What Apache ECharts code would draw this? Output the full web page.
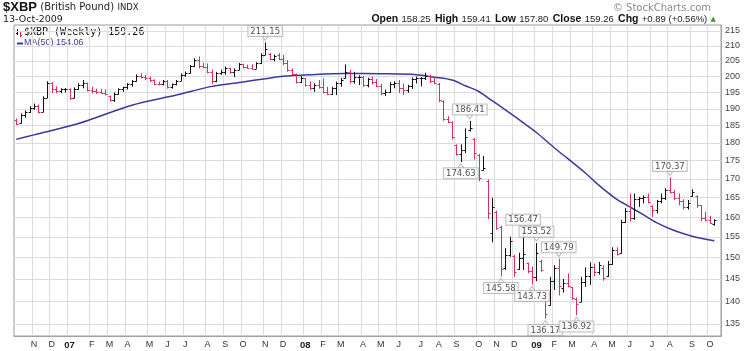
<!DOCTYPE html>
<html>
<head>
<meta charset="utf-8">
<title>$XBP (British Pound)</title>
<script src="https://cdn.jsdelivr.net/npm/echarts@6.0.0/dist/echarts.min.js"></script>
<style>
  html, body { margin: 0; padding: 0; background: #fff; }
  #chart { width: 754px; height: 351px; }
</style>
</head>
<body>
<div id="chart"></div>
<script>
// weekly bars, dated by the Monday of each week
var firstWeek = '2006-10-09';

var opens = [
  186.8, 185.7, 188.2, 189.1, 190.4, 191.0, 189.0, 193.4, 197.9, 196.0,
  195.5, 196.0, 196.1, 193.3, 196.2, 197.3, 198.0, 195.9, 195.4, 195.1,
  194.9, 193.8, 192.7, 194.6, 196.0, 196.6, 197.5, 198.7, 200.2, 199.9,
  199.4, 198.8, 197.8, 197.6, 198.5, 196.8, 197.5, 198.7, 200.6, 201.2,
  203.3, 205.4, 203.4, 203.0, 201.4, 198.6, 201.1, 201.6, 202.6, 201.3,
  202.2, 203.9, 203.1, 202.8, 202.5, 204.3, 207.1, 207.3, 205.6, 207.0,
  205.7, 204.2, 202.0, 200.9, 198.3, 199.4, 197.2, 196.3, 197.4, 196.6,
  195.2, 194.6, 196.3, 198.0, 199.5, 201.5, 198.7, 199.9, 199.8, 197.4,
  199.2, 198.3, 197.1, 194.7, 195.2, 197.8, 197.9, 196.4, 195.7, 196.9,
  199.3, 199.4, 199.5, 200.1, 198.7, 197.8, 192.4, 186.9, 186.1, 179.5,
  176.9, 178.0, 183.6, 181.0, 176.5, 172.5, 169.5, 156.0, 161.4, 157.6,
  147.5, 150.6, 150.5, 147.3, 149.8, 148.7, 146.8, 145.5, 149.3, 140.5,
  139.2, 144.6, 147.5, 143.0, 144.0, 143.2, 140.5, 139.8, 144.2, 145.6,
  147.9, 146.6, 147.5, 145.7, 148.6, 151.8, 151.0, 158.7, 161.6, 159.8,
  164.6, 164.9, 165.3, 162.8, 161.8, 164.0, 164.8, 167.0, 166.5, 164.8,
  164.2, 162.5, 165.5, 165.4, 163.0, 159.8, 159.3, 158.25
];
var highs = [
  187.1, 188.6, 189.5, 190.8, 191.6, 191.3, 193.8, 198.5, 198.2, 196.9,
  196.3, 196.4, 196.3, 196.6, 197.9, 198.9, 198.1, 196.8, 196.2, 196.1,
  196.0, 194.0, 195.0, 196.3, 196.8, 197.9, 198.9, 200.7, 201.0, 200.5,
  200.0, 199.1, 198.4, 198.9, 198.9, 197.8, 198.9, 201.0, 201.6, 203.7,
  205.9, 206.5, 204.4, 204.2, 202.2, 201.5, 202.2, 203.2, 202.8, 202.6,
  204.4, 204.1, 203.8, 204.0, 204.6, 207.5, 211.15, 207.6, 207.1, 207.6,
  207.0, 205.3, 202.6, 201.0, 200.1, 199.5, 198.4, 197.8, 198.9, 199.4,
  196.8, 196.8, 198.4, 199.5, 203.9, 202.1, 201.5, 200.4, 200.2, 199.6,
  200.0, 199.2, 197.7, 195.9, 198.2, 198.5, 198.9, 197.8, 197.4, 199.7,
  200.0, 199.8, 201.2, 200.6, 199.7, 198.0, 192.6, 187.8, 186.3, 179.6,
  179.6, 184.2, 186.41, 181.4, 176.9, 176.3, 169.8, 165.0, 161.6, 157.8,
  152.3, 155.1, 150.7, 151.2, 156.47, 148.8, 147.9, 153.52, 149.5, 140.6,
  145.5, 148.2, 149.79, 145.0, 146.3, 143.2, 140.8, 145.5, 147.7, 148.9,
  148.6, 149.0, 148.2, 149.2, 152.5, 152.5, 159.3, 162.3, 166.1, 166.1,
  165.2, 165.6, 166.1, 163.0, 164.4, 166.1, 167.5, 170.37, 167.1, 166.1,
  164.6, 164.4, 167.2, 165.6, 163.0, 161.3, 160.3, 159.41
];
var lows = [
  185.2, 185.6, 187.3, 188.8, 189.7, 188.6, 189.0, 193.3, 194.8, 194.7,
  194.8, 195.0, 192.7, 193.2, 195.8, 196.3, 195.3, 194.7, 194.6, 194.6,
  194.1, 192.2, 192.1, 194.3, 195.2, 195.9, 196.8, 198.4, 199.4, 198.9,
  198.3, 197.3, 197.2, 197.2, 196.2, 196.2, 197.2, 198.6, 199.9, 200.9,
  203.1, 202.6, 202.6, 201.0, 197.6, 198.2, 200.5, 200.6, 200.9, 199.8,
  202.0, 202.6, 202.4, 202.3, 202.5, 204.0, 207.0, 205.3, 204.9, 205.3,
  203.7, 201.5, 200.5, 197.8, 198.0, 196.8, 195.8, 195.2, 196.2, 194.7,
  194.2, 194.2, 194.2, 196.8, 199.4, 197.8, 197.8, 197.3, 196.8, 196.6,
  197.5, 196.7, 194.2, 193.9, 194.9, 196.3, 194.8, 194.2, 194.9, 196.1,
  197.8, 196.9, 198.9, 198.0, 197.6, 192.0, 186.4, 185.7, 181.0, 176.4,
  174.63, 177.1, 183.3, 175.3, 169.4, 172.3, 159.5, 153.7, 156.8, 145.58,
  147.1, 150.2, 145.5, 147.1, 147.1, 146.3, 143.73, 144.5, 146.7, 136.17,
  139.0, 142.5, 141.3, 141.9, 143.1, 140.3, 136.92, 139.8, 143.2, 143.7,
  145.6, 146.0, 144.6, 145.5, 148.3, 150.5, 151.0, 158.5, 158.9, 159.3,
  162.6, 163.5, 163.5, 160.0, 160.9, 163.5, 164.4, 166.1, 164.4, 163.0,
  161.9, 161.9, 165.3, 162.3, 158.9, 158.9, 158.2, 157.80
];
var closes = [
  185.6, 188.2, 189.1, 190.4, 191.0, 189.0, 193.4, 197.9, 196.0, 195.5,
  196.0, 196.1, 193.2, 196.2, 197.3, 198.0, 195.9, 195.4, 195.1, 194.9,
  194.5, 192.7, 194.6, 196.0, 196.6, 197.5, 198.7, 200.2, 199.9, 199.4,
  198.8, 197.8, 197.6, 198.5, 196.8, 197.5, 198.7, 200.6, 201.2, 203.3,
  205.4, 203.4, 203.0, 201.4, 198.6, 201.1, 201.6, 202.6, 201.3, 202.2,
  203.9, 203.1, 202.8, 202.5, 204.3, 207.1, 209.0, 205.6, 206.6, 205.7,
  204.2, 202.0, 200.9, 198.3, 199.4, 197.2, 196.3, 197.4, 196.6, 195.2,
  194.6, 196.3, 198.0, 199.0, 201.5, 198.7, 199.9, 200.0, 197.4, 199.2,
  198.3, 197.1, 194.7, 195.2, 197.8, 197.9, 196.4, 195.7, 196.9, 199.3,
  199.4, 199.5, 200.1, 198.7, 198.1, 192.7, 186.9, 186.1, 181.6, 176.9,
  178.0, 181.7, 184.3, 177.2, 170.3, 173.0, 161.0, 162.6, 157.3, 147.3,
  150.6, 154.0, 146.6, 150.0, 150.8, 146.8, 145.5, 151.2, 147.0, 137.2,
  144.6, 147.5, 143.5, 144.0, 143.4, 140.8, 139.3, 144.2, 145.6, 147.9,
  146.6, 148.2, 145.2, 148.6, 151.8, 150.8, 158.7, 161.6, 159.8, 164.6,
  164.9, 165.3, 163.8, 161.8, 164.0, 164.8, 167.0, 166.5, 164.8, 164.2,
  162.5, 163.5, 166.4, 163.0, 159.8, 159.3, 158.37, 159.26
];

// MA(50) at a few weeks
var maWeek  = [0, 4, 14, 26, 36, 44, 51, 56, 60, 66, 74, 82, 90, 94, 98, 101, 104, 107, 110, 114, 117, 121, 124, 128, 131, 135, 138, 141, 144, 148, 152, 157];
var maValue = [181.0, 182.3, 185.6, 191.1, 194.2, 196.9, 198.3, 199.3, 200.1, 200.6, 201.0, 200.9, 200.6, 199.8, 198.9, 197.1, 195.3, 192.5, 189.7, 185.9, 183.0, 178.6, 175.6, 171.6, 168.3, 164.6, 162.6, 160.6, 158.6, 156.6, 155.2, 154.06];

// weeks carrying a price flag
var peakWeek = [56, 102, 114, 117, 122, 147];
var troughWeek = [100, 109, 116, 119, 126];

var priceTicks = [135, 140, 145, 150, 155, 160, 165, 170, 175, 180, 185, 190, 195, 200, 205, 210, 215];

var upColor = '#111111';
var downColor = '#d8305e';
var maColor = '#3a3a9e';

var weeks = [];
var t0 = new Date(firstWeek + 'T00:00:00Z').getTime();
for (var k = 0; k <= closes.length; k++) {
  weeks.push(new Date(t0 + k * 7 * 86400000).toISOString().slice(0, 10));
}

var monthLetters = ['J', 'F', 'M', 'A', 'M', 'J', 'J', 'A', 'S', 'O', 'N', 'D'];
function monthStart(idx) {
  return idx > 0 && weeks[idx].slice(5, 7) !== weeks[idx - 1].slice(5, 7);
}

var bars = [];
for (var i = 0; i < closes.length; i++) {
  var prev = i > 0 ? closes[i - 1] : opens[i];
  bars.push([i, opens[i], highs[i], lows[i], closes[i], closes[i] >= prev ? 1 : 0]);
}

function renderBar(params, api) {
  var idx = api.value(0);
  var hi = api.coord([idx, api.value(2)]);
  var lo = api.coord([idx, api.value(3)]);
  var op = api.coord([idx, api.value(1)]);
  var cl = api.coord([idx, api.value(4)]);
  var x = Math.round(hi[0]) + 0.5;
  var color = api.value(5) ? upColor : downColor;
  var yo = Math.round(op[1]) + 0.5;
  var yc = Math.round(cl[1]) + 0.5;
  return {
    type: 'group',
    children: [
      { type: 'line', shape: { x1: x, y1: hi[1], x2: x, y2: lo[1] }, style: { stroke: color, lineWidth: 1 } },
      { type: 'line', shape: { x1: x - 2, y1: yo, x2: x, y2: yo }, style: { stroke: color, lineWidth: 1 } },
      { type: 'line', shape: { x1: x, y1: yc, x2: x + 2, y2: yc }, style: { stroke: color, lineWidth: 1 } }
    ]
  };
}

var last = closes.length - 1;
var chg = closes[last] - closes[last - 1];
var chgPct = chg / closes[last - 1] * 100;

var flagLabel = {
  show: true,
  formatter: function (p) { return p.value[1].toFixed(2); },
  backgroundColor: '#fff',
  borderColor: '#b0b0b0',
  borderWidth: 1,
  padding: [1, 2, 0, 2],
  fontSize: 8.5,
  fontFamily: 'DejaVu Sans',
  color: '#222',
  distance: 0
};
var flagPointer = { color: '#fff', borderColor: '#b0b0b0', borderWidth: 1 };

var chart = echarts.init(document.getElementById('chart'));
var option = {
  animation: false,
  backgroundColor: '#fff',
  grid: { left: 14, top: 25, right: 33, bottom: 15, show: true, borderColor: '#9a9a9a', borderWidth: 1, containLabel: false, outerBoundsMode: 'none' },
  xAxis: {
    type: 'category',
    data: weeks,
    boundaryGap: true,
    axisLine: { show: true, lineStyle: { color: '#999', type: 'dotted' } },
    axisTick: { show: false },
    axisLabel: {
      interval: function (index) { return monthStart(index); },
      formatter: function (value) {
        var m = parseInt(value.slice(5, 7), 10);
        if (m === 1) return '{y|' + value.slice(2, 4) + '}';
        return monthLetters[m - 1];
      },
      rich: { y: { fontWeight: 'bold', fontSize: 9.5, fontFamily: 'Liberation Sans', color: '#222' } },
      fontSize: 9,
      fontFamily: 'Liberation Sans',
      color: '#333',
      margin: 4
    },
    splitLine: {
      show: true,
      interval: function (index) { return monthStart(index); },
      lineStyle: { color: '#dcdcdc', width: 1 }
    }
  },
  yAxis: {
    type: 'log',
    logBase: 10,
    position: 'right',
    min: 132.45,
    max: 217.06,
    axisLine: { show: true, lineStyle: { color: '#999', type: 'dotted' } },
    axisTick: { show: false, customValues: priceTicks },
    axisLabel: {
      customValues: priceTicks,
      fontSize: 9,
      fontFamily: 'Liberation Sans',
      color: '#444',
      margin: 4,
      formatter: function (v) { return String(Math.round(v)); }
    },
    splitLine: { show: true, lineStyle: { color: '#dcdcdc', width: 1 } }
  },
  series: [
    {
      type: 'line',
      data: maWeek.map(function (w, n) { return [w, maValue[n]]; }),
      symbol: 'none',
      smooth: 0.3,
      lineStyle: { color: maColor, width: 1.5 },
      z: 2
    },
    {
      type: 'custom',
      renderItem: renderBar,
      data: bars,
      encode: { x: 0, y: [1, 2, 3, 4] },
      z: 3
    },
    {
      type: 'scatter',
      data: peakWeek.map(function (w) { return [w, highs[w]]; }),
      symbol: 'triangle',
      symbolRotate: 180,
      symbolSize: [6, 4],
      symbolOffset: [0, -4],
      itemStyle: flagPointer,
      label: Object.assign({ position: 'top' }, flagLabel),
      z: 4
    },
    {
      type: 'scatter',
      data: troughWeek.map(function (w) { return [w, lows[w]]; }),
      symbol: 'triangle',
      symbolSize: [6, 4],
      symbolOffset: [0, 4],
      itemStyle: flagPointer,
      label: Object.assign({ position: 'bottom' }, flagLabel),
      z: 4
    }
  ],
  graphic: [
    {
      type: 'text', x: 3, y: 1,
      style: {
        text: '{a|$XBP} {b|(British Pound)} {c|INDX}',
        rich: {
          a: { fontFamily: 'Liberation Sans', fontWeight: 'bold', fontSize: 13, fill: '#111' },
          b: { fontFamily: 'DejaVu Sans', fontSize: 10, fill: '#222' },
          c: { fontFamily: 'DejaVu Sans', fontSize: 8.5, fill: '#222' }
        }
      }
    },
    {
      type: 'text', x: 3, y: 15,
      style: { text: '13-Oct-2009', font: '9.5px "DejaVu Sans"', fill: '#222' }
    },
    {
      type: 'text', x: 711, y: 3,
      style: { text: '\u00a9 StockCharts.com', font: '10px "DejaVu Sans"', fill: '#8a8a8a', align: 'right' }
    },
    {
      type: 'text', x: 716, y: 13,
      style: {
        text: '{b|Open} {v|' + opens[last].toFixed(2) + '} {b|High} {v|' + highs[last].toFixed(2) +
              '} {b|Low} {v|' + lows[last].toFixed(2) + '} {b|Close} {v|' + closes[last].toFixed(2) +
              '} {b|Chg} {v|' + (chg >= 0 ? '+' : '') + chg.toFixed(2) + ' (' + (chg >= 0 ? '+' : '') + chgPct.toFixed(2) + '%)} {g|\u25b2}',
        align: 'right',
        rich: {
          b: { fontFamily: 'Liberation Sans', fontWeight: 'bold', fontSize: 10.5, fill: '#111', padding: [0, 0, 0, 1] },
          v: { fontFamily: 'Liberation Sans', fontSize: 9.5, fill: '#222' },
          g: { fontFamily: 'DejaVu Sans', fontSize: 7, fill: '#3a9a3a' }
        }
      }
    },
    {
      type: 'group', x: 16, y: 28,
      children: [
        { type: 'line', shape: { x1: 1.5, y1: 1, x2: 1.5, y2: 7 }, style: { stroke: upColor, lineWidth: 1 } },
        { type: 'line', shape: { x1: 0, y1: 5.5, x2: 1.5, y2: 5.5 }, style: { stroke: upColor, lineWidth: 1 } },
        { type: 'line', shape: { x1: 4.5, y1: 3, x2: 4.5, y2: 9 }, style: { stroke: downColor, lineWidth: 1 } },
        { type: 'line', shape: { x1: 4.5, y1: 7.5, x2: 6, y2: 7.5 }, style: { stroke: downColor, lineWidth: 1 } }
      ]
    },
    {
      type: 'text', x: 24, y: 27,
      style: { text: '$XBP (Weekly) ' + closes[last].toFixed(2), font: '10px "DejaVu Sans Mono"', fill: '#111' }
    },
    {
      type: 'line', shape: { x1: 17, y1: 43.5, x2: 23, y2: 43.5 },
      style: { stroke: maColor, lineWidth: 2 }
    },
    {
      type: 'text', x: 24, y: 38.5,
      style: { text: 'MA(50) ' + maValue[maValue.length - 1].toFixed(2), font: '9px "Liberation Sans"', fill: maColor }
    }
  ]
};
chart.setOption(option);
</script>
</body>
</html>
